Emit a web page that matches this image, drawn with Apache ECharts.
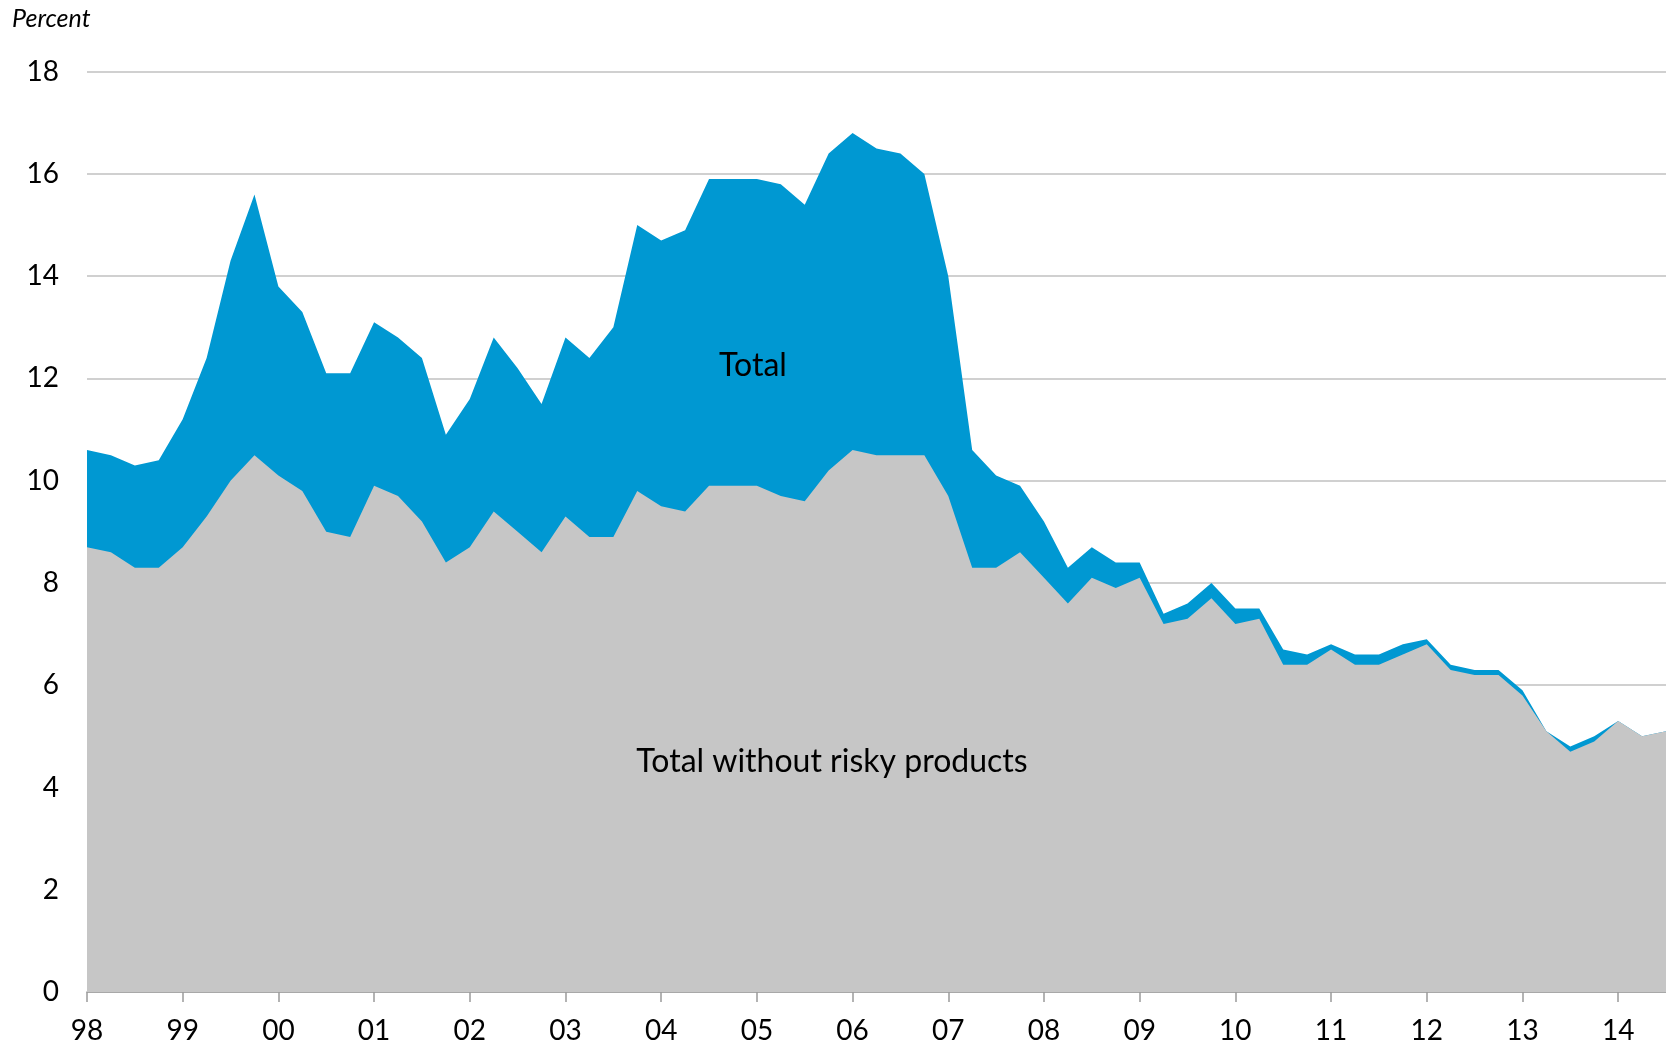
<!DOCTYPE html>
<html>
<head>
<meta charset="utf-8">
<script src="https://cdn.jsdelivr.net/npm/echarts@6/dist/echarts.min.js"></script>
<style>
html,body{margin:0;padding:0;background:#fff;}
#chart{width:1666px;height:1045px;}
</style>
</head>
<body>
<div id="chart"></div>
<script>
// Year tick labels (one per year, each year has 4 quarters)
var yearLabels = ['98','99','00','01','02','03','04','05','06','07','08','09','10','11','12','13','14'];
var quartersInLastYear = 3;

// Total (percent), quarterly from 1998Q1
var totalValues = [
  10.6, 10.5, 10.3, 10.4, 11.2, 12.4, 14.3, 15.6, 13.8, 13.3, 12.1, 12.1,
  13.1, 12.8, 12.4, 10.9, 11.6, 12.8, 12.2, 11.5, 12.8, 12.4, 13.0, 15.0,
  14.7, 14.9, 15.9, 15.9, 15.9, 15.8, 15.4, 16.4, 16.8, 16.5, 16.4, 16.0,
  14.0, 10.6, 10.1, 9.9, 9.2, 8.3, 8.7, 8.4, 8.4, 7.4, 7.6, 8.0,
  7.5, 7.5, 6.7, 6.6, 6.8, 6.6, 6.6, 6.8, 6.9, 6.4, 6.3, 6.3,
  5.9, 5.1, 4.8, 5.0, 5.3, 5.0, 5.1
];

// Total without risky products (percent)
var withoutRiskyValues = [
  8.7, 8.6, 8.3, 8.3, 8.7, 9.3, 10.0, 10.5, 10.1, 9.8, 9.0, 8.9,
  9.9, 9.7, 9.2, 8.4, 8.7, 9.4, 9.0, 8.6, 9.3, 8.9, 8.9, 9.8,
  9.5, 9.4, 9.9, 9.9, 9.9, 9.7, 9.6, 10.2, 10.6, 10.5, 10.5, 10.5,
  9.7, 8.3, 8.3, 8.6, 8.1, 7.6, 8.1, 7.9, 8.1, 7.2, 7.3, 7.7,
  7.2, 7.3, 6.4, 6.4, 6.7, 6.4, 6.4, 6.6, 6.8, 6.3, 6.2, 6.2,
  5.8, 5.1, 4.7, 4.9, 5.3, 5.0, 5.1
];

var seriesNames = ['Total', 'Total without risky products'];

// build quarterly categories from the year labels
var categories = [];
yearLabels.forEach(function (y, i) {
  var n = (i === yearLabels.length - 1) ? quartersInLastYear : 4;
  for (var q = 1; q <= n; q++) categories.push(y + ' Q' + q);
});

var FONT = 'Lato';
var chart = echarts.init(document.getElementById('chart'), null, {renderer: 'canvas'});
chart.setOption({
  animation: false,
  backgroundColor: '#ffffff',
  grid: {left: 87, top: 71.7, width: 1580.5, height: 920.6, containLabel: false},
  xAxis: {
    type: 'category',
    data: categories,
    boundaryGap: false,
    axisLine: {show: true, lineStyle: {color: '#9a9a9a', width: 1.5}},
    axisTick: {show: true, interval: 3, length: 10, lineStyle: {color: '#9a9a9a', width: 1.5}},
    axisLabel: {
      interval: 3,
      margin: 25,
      color: '#000',
      fontFamily: FONT,
      fontSize: 28,
      formatter: function (v) { return v.split(' ')[0]; }
    },
    splitLine: {show: false}
  },
  yAxis: {
    type: 'value',
    min: 0, max: 18, interval: 2,
    axisLine: {show: false},
    axisTick: {show: false},
    axisLabel: {color: '#000', fontFamily: FONT, fontSize: 28, margin: 28},
    splitLine: {show: true, lineStyle: {color: '#c0c0c0', width: 1.5}}
  },
  series: [
    {
      name: seriesNames[0],
      type: 'line',
      data: totalValues,
      symbol: 'none',
      lineStyle: {width: 0, color: '#0098d2'},
      areaStyle: {color: '#0098d2', opacity: 1},
      z: 1
    },
    {
      name: seriesNames[1],
      type: 'line',
      data: withoutRiskyValues,
      symbol: 'none',
      lineStyle: {width: 0, color: '#c6c6c6'},
      areaStyle: {color: '#c6c6c6', opacity: 1},
      z: 2
    }
  ],
  graphic: [
    {type: 'text', left: 12, top: 6, z: 10,
     style: {text: 'Percent', font: 'italic 25px Lato', fill: '#000'}},
    {type: 'text', x: 753, y: 366, z: 10,
     style: {text: seriesNames[0], font: '32px Lato', fill: '#000', textAlign: 'center', textVerticalAlign: 'middle'}},
    {type: 'text', x: 832, y: 762, z: 10,
     style: {text: seriesNames[1], font: '32px Lato', fill: '#000', textAlign: 'center', textVerticalAlign: 'middle'}}
  ]
});
</script>
</body>
</html>
